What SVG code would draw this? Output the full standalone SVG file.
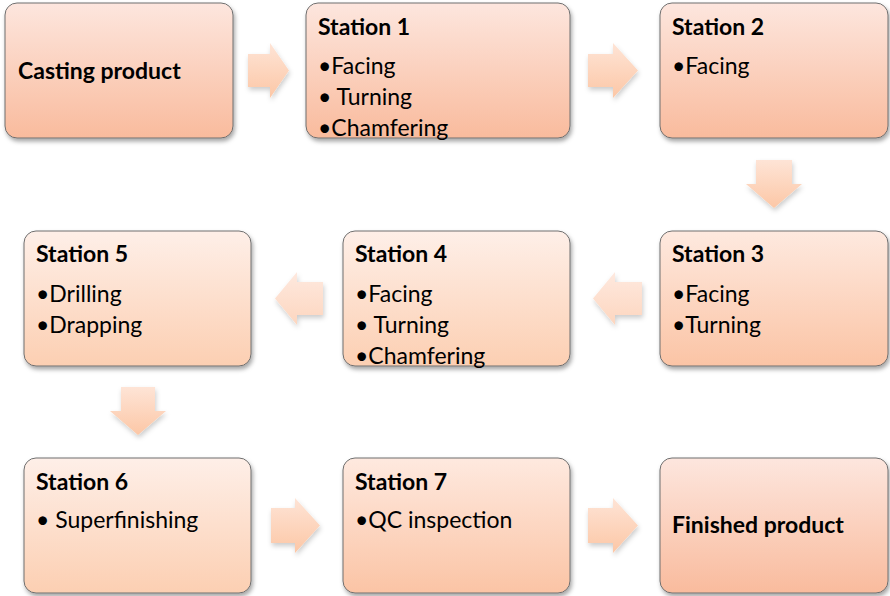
<svg xmlns="http://www.w3.org/2000/svg" width="890" height="596" viewBox="0 0 890 596">
<defs>
<linearGradient id="gA" x1="0" y1="0" x2="0" y2="1"><stop offset="0" stop-color="#fde6de"/><stop offset="1" stop-color="#f9bb9d"/></linearGradient>
<linearGradient id="gB" x1="0" y1="0" x2="0" y2="1"><stop offset="0" stop-color="#feefe8"/><stop offset="1" stop-color="#fccfb2"/></linearGradient>
<linearGradient id="gC" x1="0" y1="0" x2="0" y2="1"><stop offset="0" stop-color="#fee9df"/><stop offset="1" stop-color="#fbc4a5"/></linearGradient>
<linearGradient id="gArr" x1="0" y1="0" x2="0" y2="1"><stop offset="0" stop-color="#fee4d6"/><stop offset="1" stop-color="#fcc7a6"/></linearGradient>
<linearGradient id="gArrL" x1="0" y1="0" x2="0" y2="1"><stop offset="0" stop-color="#fee9df"/><stop offset="1" stop-color="#fdd6bf"/></linearGradient>
<filter id="sh" x="-10%" y="-10%" width="125%" height="125%"><feDropShadow dx="1.5" dy="3" stdDeviation="2" flood-color="#000" flood-opacity="0.35"/></filter>
<filter id="ash" x="-20%" y="-20%" width="150%" height="150%"><feDropShadow dx="1" dy="3" stdDeviation="2.5" flood-color="#000" flood-opacity="0.2"/></filter>
</defs>
<style>
.box{stroke:#6f6f6f;stroke-width:1;filter:url(#sh)}
.arr{fill:url(#gArr);filter:url(#ash)}
.arrL{fill:url(#gArrL);filter:url(#ash)}
text{font-family:Lato,"Liberation Sans",sans-serif;font-size:23px;fill:#000}
.t{font-weight:bold}
</style>
<g id="connectors">
<path class="arr" d="M248,54 H270 V43 L289,70.5 L270,98 V87 H248 Z"/>
<path class="arr" d="M588,54 H613 V43 L638,70.5 L613,98 V87 H588 Z"/>
<path class="arr" d="M756,160 H792 V184 H802 L774,208 L746,184 H756 Z"/>
<path class="arrL" d="M642,282 V315 H615 V325 L593,298.5 L615,272 V282 Z"/>
<path class="arrL" d="M323,282 V315 H297 V325 L275,298.5 L297,272 V282 Z"/>
<path class="arr" d="M121,387 H155 V411 H166 L138,435 L110,411 H121 Z"/>
<path class="arr" d="M271,508 H295 V498 L320,525.5 L295,553 V543 H271 Z"/>
<path class="arr" d="M588,508 H613 V498 L638,525.5 L613,553 V543 H588 Z"/>
</g>
<g id="casting">
<rect class="box" x="5" y="3" width="228" height="135" rx="12" fill="url(#gA)"/>
<text class="t" x="18" y="79">Casting product</text>
</g>
<g id="station1">
<rect class="box" x="306" y="3" width="264" height="135" rx="12" fill="url(#gA)"/>
<text class="t" x="318" y="35">Station 1</text>
<text x="318" y="74">•Facing</text>
<text x="318" y="105">• Turning</text>
<text x="318" y="136">•Chamfering</text>
</g>
<g id="station2">
<rect class="box" x="660" y="3" width="228" height="135" rx="12" fill="url(#gA)"/>
<text class="t" x="672" y="35">Station 2</text>
<text x="672" y="74">•Facing</text>
</g>
<g id="station3">
<rect class="box" x="660" y="231" width="228" height="135" rx="12" fill="url(#gC)"/>
<text class="t" x="672" y="262">Station 3</text>
<text x="672" y="302">•Facing</text>
<text x="672" y="333">•Turning</text>
</g>
<g id="station4">
<rect class="box" x="343" y="231" width="227" height="135" rx="12" fill="url(#gB)"/>
<text class="t" x="355" y="262">Station 4</text>
<text x="355" y="302">•Facing</text>
<text x="355" y="333">• Turning</text>
<text x="355" y="364">•Chamfering</text>
</g>
<g id="station5">
<rect class="box" x="24" y="231" width="227" height="135" rx="12" fill="url(#gB)"/>
<text class="t" x="36" y="262">Station 5</text>
<text x="36" y="302">•Drilling</text>
<text x="36" y="333">•Drapping</text>
</g>
<g id="station6">
<rect class="box" x="24" y="458" width="227" height="135" rx="12" fill="url(#gB)"/>
<text class="t" x="36" y="490">Station 6</text>
<text x="36" y="528">• Superfinishing</text>
</g>
<g id="station7">
<rect class="box" x="343" y="458" width="227" height="135" rx="12" fill="url(#gC)"/>
<text class="t" x="355" y="490">Station 7</text>
<text x="355" y="528">•QC inspection</text>
</g>
<g id="finished">
<rect class="box" x="660" y="458" width="228" height="135" rx="12" fill="url(#gA)"/>
<text class="t" x="672" y="533">Finished product</text>
</g>
</svg>
